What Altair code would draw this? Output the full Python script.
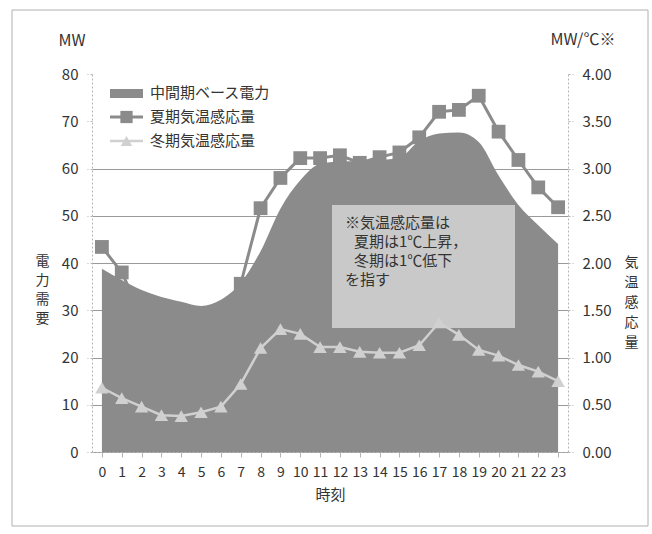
import altair as alt
import pandas as pd

# ---------------- data ----------------
hours = list(range(24))
base_mw = [38.8, 36.4, 34.3, 32.8, 31.8, 30.9, 32.2, 35.8, 42.5, 51.5, 57.5, 61.0,
           61.5, 61.6, 61.8, 62.3, 65.8, 67.4, 67.6, 65.6, 58.5, 52.3, 48.0, 44.0]
summer = [2.17, 1.90, 1.45, 1.25, 1.05, 1.05, 1.40, 1.78, 2.58, 2.90, 3.11, 3.11,
          3.14, 3.06, 3.12, 3.17, 3.33, 3.60, 3.62, 3.77, 3.39, 3.09, 2.80, 2.59]
winter = [0.68, 0.57, 0.48, 0.39, 0.38, 0.42, 0.48, 0.72, 1.10, 1.30, 1.25, 1.11,
          1.11, 1.06, 1.05, 1.05, 1.13, 1.37, 1.24, 1.08, 1.02, 0.92, 0.85, 0.75]
series_names = ["中間期ベース電力", "夏期気温感応量", "冬期気温感応量"]
left_ticks = [0, 10, 20, 30, 40, 50, 60, 70, 80]
right_ticks = [0, 0.5, 1.0, 1.5, 2.0, 2.5, 3.0, 3.5, 4.0]
note_lines = ["※気温感応量は", "夏期は1℃上昇，", "冬期は1℃低下", "を指す"]
note_indent = [0, 9, 9, 0]
left_title = ["電", "力", "需", "要"]
right_title = ["気", "温", "感", "応", "量"]
x_title = "時刻"
left_unit = "MW"
right_unit = "MW/℃※"

df = pd.DataFrame({"hour": hours, "base": base_mw, "summer": summer, "winter": winter})

# ---------------- style ----------------
FONT = "Noto Sans CJK JP"
W, H = 476, 378
AREA = "#8b8b8b"
SUM = "#8b8b8b"
WIN = "#d0d0d0"
BOX = "#c9c9c9"
TXT = "#333333"
AX = "#b4b4b4"

x_enc = alt.X(
    "hour:O",
    scale=alt.Scale(type="point", padding=0.5),
    axis=alt.Axis(
        title=x_title, labelAngle=0, labelOverlap=False, labelFont=FONT,
        labelFontSize=14, labelColor=TXT, labelPadding=8, tickSize=5,
        tickColor=AX, domainColor=AX, domainDash=[2, 2], titleFont=FONT,
        titleFontSize=15, titleFontWeight="normal", titleColor=TXT, titlePadding=8,
        grid=False,
    ),
)

left_axis = alt.Axis(
    orient="left", values=left_ticks, labelFont=FONT, labelFontSize=15,
    labelColor=TXT, labelPadding=9, tickSize=5, tickColor=AX, tickDash=[2, 2],
    domainColor=AX, domainDash=[2, 2], grid=True,
    gridColor={"condition": {"test": "datum.value > 60", "value": "transparent"},
               "value": "#9a9a9a"},
    title=left_title, titleAngle=0, titleX=-50, titleY=187, titleAlign="center",
    titleBaseline="middle", titleLineHeight=19, titleFont=FONT, titleFontSize=14,
    titleFontWeight="normal", titleColor=TXT,
)

right_axis = alt.Axis(
    orient="right", values=right_ticks, format=".2f", labelFont=FONT,
    labelFontSize=15, labelColor=TXT, labelPadding=9, tickSize=5, tickColor=AX,
    tickDash=[2, 2], domainColor=AX, domainDash=[2, 2], grid=False,
    title=right_title, titleAngle=0, titleX=63, titleY=188, titleAlign="center",
    titleBaseline="middle", titleLineHeight=20, titleFont=FONT, titleFontSize=14,
    titleFontWeight="normal", titleColor=TXT,
)

base = alt.Chart(df)

area = base.mark_area(color=AREA, interpolate="monotone").encode(
    x=x_enc,
    y=alt.Y("base:Q", scale=alt.Scale(domain=[0, 80], nice=False), axis=left_axis),
)

ry = alt.Scale(domain=[0, 4], nice=False)
sum_line = base.mark_line(color=SUM, strokeWidth=3).encode(
    x=x_enc, y=alt.Y("summer:Q", scale=ry, axis=right_axis))
sum_pts = base.mark_point(shape="square", filled=True, color=SUM, size=190, opacity=1).encode(
    x=x_enc, y=alt.Y("summer:Q", scale=ry, axis=right_axis))
win_line = base.mark_line(color=WIN, strokeWidth=2.5).encode(
    x=x_enc, y=alt.Y("winter:Q", scale=ry, axis=right_axis))
win_pts = base.mark_point(shape="triangle-up", filled=True, color=WIN, size=180, opacity=1).encode(
    x=x_enc, y=alt.Y("winter:Q", scale=ry, axis=right_axis))

right = alt.layer(sum_line, sum_pts, win_line, win_pts)


def one(d):
    return alt.Chart(pd.DataFrame(d))


# annotation box
box = one({"a": [0]}).mark_rect(color=BOX).encode(
    x=alt.value(240), x2=alt.value(423), y=alt.value(131), y2=alt.value(254))
note = [
    one({"t": [line]}).mark_text(
        font=FONT, fontSize=15, color=TXT, align="left", baseline="middle").encode(
        x=alt.value(253 + note_indent[i]), y=alt.value(149 + 19 * i), text="t:N")
    for i, line in enumerate(note_lines)
]

# manual legend
leg_rect = one({"a": [0]}).mark_rect(color=AREA).encode(
    x=alt.value(18), x2=alt.value(51), y=alt.value(15), y2=alt.value(24))
leg_l1 = one({"a": [0]}).mark_rule(color=SUM, strokeWidth=3).encode(
    x=alt.value(18), x2=alt.value(51), y=alt.value(43))
leg_p1 = one({"a": [0]}).mark_point(shape="square", filled=True, color=SUM, size=150, opacity=1).encode(
    x=alt.value(34.5), y=alt.value(43))
leg_l2 = one({"a": [0]}).mark_rule(color=WIN, strokeWidth=2.5).encode(
    x=alt.value(18), x2=alt.value(51), y=alt.value(67))
leg_p2 = one({"a": [0]}).mark_point(shape="triangle-up", filled=True, color=WIN, size=130, opacity=1).encode(
    x=alt.value(34.5), y=alt.value(67))
leg_t = [
    one({"t": [series_names[i]]}).mark_text(
        font=FONT, fontSize=15, color=TXT, align="left", baseline="middle").encode(
        x=alt.value(58), y=alt.value(yy), text="t:N")
    for i, yy in enumerate([19, 43, 67])
]

# unit labels
unit_l = one({"t": [left_unit]}).mark_text(
    font=FONT, fontSize=16, color=TXT, align="center", baseline="alphabetic").encode(
    x=alt.value(-20), y=alt.value(-28), text="t:N")
unit_r = one({"t": [right_unit]}).mark_text(
    font=FONT, fontSize=16, color=TXT, align="center", baseline="alphabetic").encode(
    x=alt.value(491), y=alt.value(-29), text="t:N")

# outer frame
frame = one({"a": [0]}).mark_rect(fill="transparent", stroke="#b0b0b0", strokeWidth=1).encode(
    x=alt.value(-80), x2=alt.value(556), y=alt.value(-64), y2=alt.value(452))

chart = alt.layer(
    area, box, *note, right, leg_rect, leg_l1, leg_p1, leg_l2, leg_p2, *leg_t,
    unit_l, unit_r, frame,
).resolve_scale(y="independent").properties(
    width=W, height=H,
    autosize=alt.AutoSizeParams(type="none"),
    padding={"left": 92, "top": 74, "right": 84, "bottom": 82},
    background="white",
).configure_view(stroke=None)

chart.save("out.html", embed_options={"renderer": "svg", "actions": False})
